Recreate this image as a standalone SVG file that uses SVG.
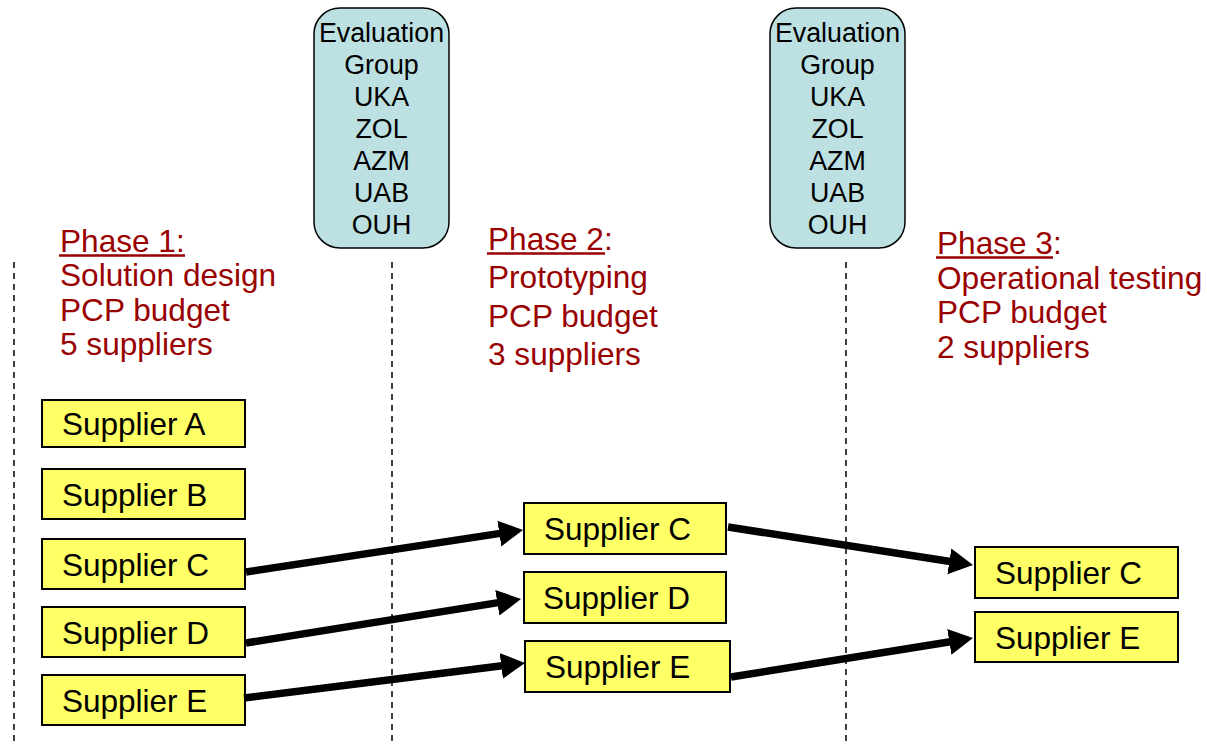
<svg xmlns="http://www.w3.org/2000/svg" width="1207" height="745" viewBox="0 0 1207 745">
<style>
.dash{stroke:#000;stroke-width:1.5;stroke-dasharray:6,5;fill:none}
.eval rect{fill:#BDE1E3;stroke:#000;stroke-width:1.5}
.eval text{font-family:"Liberation Sans",Arial,sans-serif;font-size:26.8px;fill:#000;text-anchor:middle}
.phase{font-family:"Liberation Sans",Arial,sans-serif;font-size:31.6px;fill:#990000}
.ul{stroke:#990000;stroke-width:2.5}
.sup rect{fill:#FFFF66;stroke:#000;stroke-width:2}
.sup text{font-family:"Liberation Sans",Arial,sans-serif;font-size:31.5px;fill:#000}
.conn line{stroke:#000;stroke-width:7.5;marker-end:url(#ah)}
</style>
<defs>
<marker id="ah" markerUnits="userSpaceOnUse" markerWidth="25" markerHeight="28" refX="1" refY="14" orient="auto">
<path d="M0,1 L24,14 L0,27 z" fill="#000"/>
</marker>
</defs>
<rect width="1207" height="745" fill="#fff"/>
<g id="dividers">
<line class="dash" x1="14" y1="262" x2="14" y2="745"/>
<line class="dash" x1="392" y1="262" x2="392" y2="745"/>
<line class="dash" x1="846" y1="262" x2="846" y2="745"/>
</g>
<g id="eval1" class="eval">
<rect x="314" y="8" width="135" height="240" rx="26" ry="26"/>
<text x="381.5" y="42">Evaluation</text>
<text x="381.5" y="74">Group</text>
<text x="381.5" y="106">UKA</text>
<text x="381.5" y="138">ZOL</text>
<text x="381.5" y="170">AZM</text>
<text x="381.5" y="202">UAB</text>
<text x="381.5" y="234">OUH</text>
</g>
<g id="eval2" class="eval">
<rect x="770" y="8" width="135" height="240" rx="26" ry="26"/>
<text x="837.5" y="42">Evaluation</text>
<text x="837.5" y="74">Group</text>
<text x="837.5" y="106">UKA</text>
<text x="837.5" y="138">ZOL</text>
<text x="837.5" y="170">AZM</text>
<text x="837.5" y="202">UAB</text>
<text x="837.5" y="234">OUH</text>
</g>
<g id="phase1">
<text class="phase" x="60" y="252">Phase 1:</text>
<line class="ul" x1="59" y1="255.5" x2="185" y2="255.5"/>
<text class="phase" x="60" y="286">Solution design</text>
<text class="phase" x="60" y="320.5">PCP budget</text>
<text class="phase" x="60" y="355">5 suppliers</text>
</g>
<g id="phase2">
<text class="phase" x="488" y="250">Phase 2:</text>
<line class="ul" x1="487" y1="253.5" x2="605" y2="253.5"/>
<text class="phase" x="488" y="288">Prototyping</text>
<text class="phase" x="488" y="327">PCP budget</text>
<text class="phase" x="488" y="365">3 suppliers</text>
</g>
<g id="phase3">
<text class="phase" x="937" y="254">Phase 3:</text>
<line class="ul" x1="936" y1="257.5" x2="1053" y2="257.5"/>
<text class="phase" x="937" y="289">Operational testing</text>
<text class="phase" x="937" y="323">PCP budget</text>
<text class="phase" x="937" y="358">2 suppliers</text>
</g>
<g id="p1-supplierA" class="sup"><rect x="42" y="400" width="203" height="47"/><text x="62" y="435">Supplier A</text></g>
<g id="p1-supplierB" class="sup"><rect x="42" y="469" width="203" height="50"/><text x="62" y="505.5">Supplier B</text></g>
<g id="p1-supplierC" class="sup"><rect x="42" y="539" width="203" height="50"/><text x="62" y="575.5">Supplier C</text></g>
<g id="p1-supplierD" class="sup"><rect x="42" y="607" width="203" height="50"/><text x="62" y="643.5">Supplier D</text></g>
<g id="p1-supplierE" class="sup"><rect x="42" y="675" width="203" height="50"/><text x="62" y="711.5">Supplier E</text></g>
<g id="p2-supplierC" class="sup"><rect x="524" y="503" width="202" height="51"/><text x="544" y="540">Supplier C</text></g>
<g id="p2-supplierD" class="sup"><rect x="524" y="572" width="202" height="51"/><text x="543" y="609">Supplier D</text></g>
<g id="p2-supplierE" class="sup"><rect x="525" y="641" width="205" height="51"/><text x="545" y="678">Supplier E</text></g>
<g id="p3-supplierC" class="sup"><rect x="975" y="547" width="203" height="51"/><text x="995" y="584">Supplier C</text></g>
<g id="p3-supplierE" class="sup"><rect x="975" y="612" width="203" height="50"/><text x="995" y="648.5">Supplier E</text></g>
<g id="connectors" class="conn">
<line x1="246" y1="572" x2="500.3" y2="533.4"/>
<line x1="246" y1="643" x2="498.3" y2="602.6"/>
<line x1="244" y1="698" x2="502.2" y2="665.8"/>
<line x1="728" y1="527" x2="950.3" y2="561.5"/>
<line x1="731" y1="677" x2="950.3" y2="641.7"/>
</g>
</svg>
